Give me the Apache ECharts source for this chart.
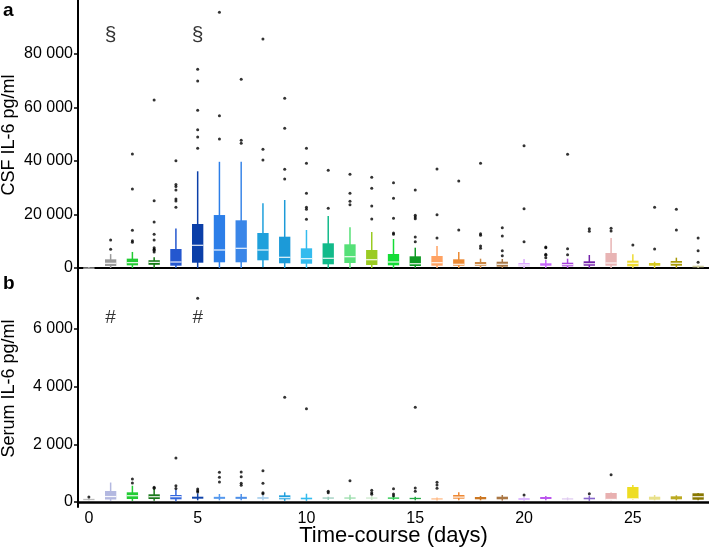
<!DOCTYPE html>
<html><head><meta charset="utf-8">
<script src="https://cdn.jsdelivr.net/npm/echarts@6/dist/echarts.min.js"></script>
<style>html,body{margin:0;padding:0;background:#fff}#c{width:709px;height:551px}</style>
</head><body><div id="c"></div>
<script>
// ---------- DATA ----------
const days = [0,1,2,3,4,5,6,7,8,9,10,11,12,13,14,15,16,17,18,19,20,21,22,23,24,25,26,27,28];
const dayLabels = days.map(String);
const csfTicks = [0, 20000, 40000, 60000, 80000];
const serumTicks = [0, 2000, 4000, 6000];

// Panel a: CSF IL-6 (pg/ml)
const csfMin    = [0,0,0,0,0,0,0,0,300,0,0,0,0,0,0,0,0,0,0,0,0,0,0,0,0,0,0,0,0];
const csfQ1     = [50,750,1000,1200,860,1980,2130,2130,2880,1760,1600,1380,1870,1120,1000,750,860,860,750,490,630,860,630,860,860,630,860,860,260];
const csfMedian = [100,1750,2000,2100,2240,8490,6730,7360,6730,4000,3480,3630,4220,3100,2240,1600,1980,1380,1230,1380,1120,1230,1230,1600,1870,1760,1380,1760,560];
const csfQ3     = [200,3250,3500,2900,7100,16450,19800,17830,13080,11700,7360,9230,8860,6730,5230,4370,4490,3250,2240,2350,1870,1760,1980,2500,5610,2730,1870,2620,860];
const csfMax    = [300,5200,6000,4000,14800,36150,39700,39700,24180,25420,14200,19440,15210,13460,10840,7590,8220,5980,3480,3360,3360,2990,3480,4860,11210,5120,2350,3850,900];
const csfOutliers = [
  [], [10470,6990], [42600,29500,14100,10200,9600],
  [62800,25150,17200,12600,10470,7590,6990,6620,5980],
  [40100,31200,30500,29200,25800,25000,22700],
  [74270,69900,58950,51700,48970,44740],
  [95600,56900,48200], [70530,47730,46600], [85600,44370,40370],
  [63430,52220,36890,33270], [44740,39130,27920,22690,21940,18200],
  [36520,22320], [35020,27920,24930,23660], [33900,29790,23180,18320],
  [31890,26050,18580,13080,12600], [29160,19700,19060,18440,11590,9830],
  [37000,19920,11210], [32520,14200], [39130,12820,12220,8220,7360],
  [15060,11960,6470,4600], [45720,22170,9830], [7850,7590,5120,4750,3850],
  [42500,7210,4970], [14700,13710], [14840,13830], [8600], [22690,7100],
  [21940,14200], [11210,6470,2130]
];
const csfMarkDays = [1, 5];
const csfMarkValues = [87100, 87100];
const csfMarkText = ['§', '§'];

// Panel b: Serum IL-6 (pg/ml)
const serumMin    = [60,40,40,40,30,60,60,60,60,40,40,70,70,70,70,60,50,60,60,50,40,60,60,40,60,80,60,60,60];
const serumQ1     = [70,87,104,104,94,115,110,110,110,94,94,120,120,120,110,100,90,115,94,94,70,104,94,94,80,104,80,94,80];
const serumMedian = [90,190,218,184,184,150,150,150,140,150,120,140,140,140,140,125,110,170,130,140,100,140,110,120,90,110,140,150,184];
const serumQ3     = [110,381,336,267,243,184,180,180,170,232,150,160,160,160,160,145,130,243,173,184,140,173,130,150,312,520,184,198,302];
const serumMax    = [120,676,565,451,430,300,277,277,243,336,288,184,253,208,208,180,160,336,208,243,170,210,160,220,330,590,243,232,310];
const serumOutliers = [
  [170], [], [798,659], [510,475], [1526,565,470], [7064,451,390,347],
  [1030,857,694], [1040,877,648,579], [1086,648,323,288], [3631], [3236],
  [371,323], [739], [406,323,267], [461,277,219], [3284,486,371],
  [683,590,475], [], [], [], [243], [], [], [288], [947], [], [], [], []
];
const serumMarkDays = [1, 5];
const serumMarkValues = [6380, 6380];
const serumMarkText = ['#', '#'];

// ---------- STYLE ----------
const csfColors = ['#c8c8c8','#9a9a9a','#22cc33','#147a14','#2457cf','#0b3fa8','#2c7ee8','#3a86e8','#1fa0dc','#1c9ad8','#33bbee','#12ba8a','#55e077','#9acb22','#14dc36','#0f9a24','#ffa262','#ec8a33','#cc8844','#a87846','#ddaaff','#c766fb','#a844dc','#7422aa','#e8b4b4','#eedb33','#d6c922','#a89a08','#d2d0a4'];
const serumColors = ['#bdbdbd','#b3b8e0','#22cc33','#1a7a1a','#3366dd','#1144aa','#5599ee','#4d8fe8','#aad0ee','#22a0dd','#33bbee','#99ccbb','#99ddaa','#cce8cc','#33cc55','#22aa44','#ffbb88','#ee8833','#cc7722','#aa7744','#ddbbff','#bb55ee','#e0ccf0','#8866cc','#e8b0b0','#eedd22','#e8e08a','#bbaa22','#887700'];
const FONT = 'Liberation Sans, Arial, Helvetica, sans-serif';

function fmt(v){ return String(v).replace(/\B(?=(\d{3})+(?!\d))/g, ' '); }

function boxRender(colors){
  return function(params, api){
    const x = api.value(0);
    const pMin = api.coord([x, api.value(1)]);
    const pQ1 = api.coord([x, api.value(2)]);
    const pMed = api.coord([x, api.value(3)]);
    const pQ3 = api.coord([x, api.value(4)]);
    const pMax = api.coord([x, api.value(5)]);
    const w = api.size([1, 0])[0] * 0.52;
    const c = colors[params.dataIndex];
    const h = Math.max(pQ1[1] - pQ3[1], 1.3);
    const children = [
      {type:'line', shape:{x1:pMin[0], y1:pMin[1], x2:pMax[0], y2:pMax[1]}, style:{stroke:c, lineWidth:1.5}},
      {type:'rect', shape:{x:pQ3[0]-w/2, y:pQ3[1], width:w, height:h}, style:{fill:c}}
    ];
    if (h > 3) {
      children.push({type:'line', shape:{x1:pMed[0]-w/2, y1:pMed[1], x2:pMed[0]+w/2, y2:pMed[1]}, style:{stroke:'#ffffff', lineWidth:1.2, opacity:0.9}});
    }
    return {type:'group', children};
  };
}

function boxData(mn, q1, md, q3, mx){
  return days.map((d, i) => [i, mn[i], q1[i], md[i], q3[i], mx[i]]);
}
function outlierData(list){
  const out = [];
  list.forEach((vals, i) => vals.forEach(v => out.push([i, v])));
  return out;
}
function markData(ds, vs, ts){
  return ds.map((d, i) => ({value:[days.indexOf(d), vs[i]], name: ts[i]}));
}

const chart = echarts.init(document.getElementById('c'), null, {renderer:'canvas'});

const yCommon = {
  type:'value', splitLine:{show:false},
  axisLine:{show:true, lineStyle:{color:'#000', width:2}},
  nameLocation:'middle', nameRotate:90, nameGap:60, nameMoveOverlap:false,
  nameTextStyle:{fontFamily:FONT, fontSize:18, color:'#000'}
};

chart.setOption({
  animation:false,
  backgroundColor:'#fff',
  graphic:[
    {type:'text', left:3, top:1, style:{text:'a', font:'bold 19px ' + FONT, fill:'#000'}},
    {type:'text', left:3, top:274, style:{text:'b', font:'bold 19px ' + FONT, fill:'#000'}}
  ],
  grid:[
    {left:78, right:0, top:0, height:270, containLabel:false, outerBoundsMode:'none'},
    {left:78, right:0, top:270, height:237, containLabel:false, outerBoundsMode:'none'}
  ],
  xAxis:[
    {type:'category', gridIndex:0, data:dayLabels, boundaryGap:true,
     axisLine:{show:true, lineStyle:{color:'#000', width:2}}, axisTick:{show:false}, axisLabel:{show:false}},
    {type:'category', gridIndex:1, data:dayLabels, boundaryGap:true,
     axisLine:{show:true, lineStyle:{color:'#000', width:2.5}}, axisTick:{show:false},
     axisLabel:{interval:(i) => i % 5 === 0, fontFamily:FONT, fontSize:16, color:'#000', margin:4},
     name:'Time-course (days)', nameLocation:'middle', nameGap:18, nameMoveOverlap:false,
     nameTextStyle:{fontFamily:FONT, fontSize:22, color:'#000'}}
  ],
  yAxis:[
    Object.assign({}, yCommon, {
      gridIndex:0, min:-748, max:100180, name:'CSF IL-6 pg/ml',
      axisTick:{show:true, length:4, lineStyle:{color:'#000', width:1.5}, customValues:csfTicks},
      axisLabel:{customValues:csfTicks, formatter:fmt, fontFamily:FONT, fontSize:16, color:'#000', margin:5}
    }),
    Object.assign({}, yCommon, {
      gridIndex:1, min:-173, max:8046, name:'Serum IL-6 pg/ml',
      axisTick:{show:true, length:4, lineStyle:{color:'#000', width:1.5}, customValues:serumTicks},
      axisLabel:{customValues:serumTicks, formatter:fmt, fontFamily:FONT, fontSize:16, color:'#000', margin:5}
    })
  ],
  series:[
    {type:'custom', xAxisIndex:0, yAxisIndex:0, renderItem:boxRender(csfColors),
     encode:{x:0, y:[1,2,3,4,5]}, data:boxData(csfMin, csfQ1, csfMedian, csfQ3, csfMax), z:2},
    {type:'scatter', xAxisIndex:0, yAxisIndex:0, data:outlierData(csfOutliers),
     symbol:'circle', symbolSize:3, itemStyle:{color:'#000'}, z:3},
    {type:'scatter', xAxisIndex:0, yAxisIndex:0, data:markData(csfMarkDays, csfMarkValues, csfMarkText),
     symbolSize:0, label:{show:true, position:'inside', formatter:(p) => p.name, fontFamily:FONT, fontSize:21, color:'#000'}},
    {type:'custom', xAxisIndex:1, yAxisIndex:1, renderItem:boxRender(serumColors),
     encode:{x:0, y:[1,2,3,4,5]}, data:boxData(serumMin, serumQ1, serumMedian, serumQ3, serumMax), z:2},
    {type:'scatter', xAxisIndex:1, yAxisIndex:1, data:outlierData(serumOutliers),
     symbol:'circle', symbolSize:3, itemStyle:{color:'#000'}, z:3},
    {type:'scatter', xAxisIndex:1, yAxisIndex:1, data:markData(serumMarkDays, serumMarkValues, serumMarkText),
     symbolSize:0, label:{show:true, position:'inside', formatter:(p) => p.name, fontFamily:FONT, fontSize:19, color:'#000'}}
  ]
});
</script>
</body></html>
